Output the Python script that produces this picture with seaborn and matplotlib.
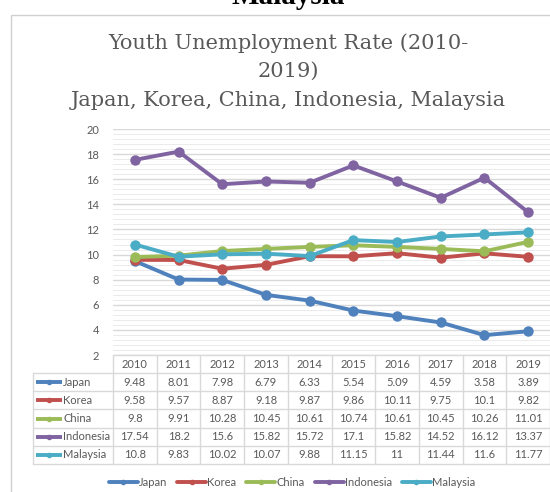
import matplotlib
matplotlib.use("Agg")
import matplotlib.pyplot as plt
from matplotlib.lines import Line2D
from matplotlib.patches import Rectangle
from matplotlib.ticker import MultipleLocator
import seaborn as sns
import pandas as pd

years = ["2010", "2011", "2012", "2013", "2014", "2015", "2016", "2017", "2018", "2019"]
countries = ["Japan", "Korea", "China", "Indonesia", "Malaysia"]
japan = [9.48, 8.01, 7.98, 6.79, 6.33, 5.54, 5.09, 4.59, 3.58, 3.89]
korea = [9.58, 9.57, 8.87, 9.18, 9.87, 9.86, 10.11, 9.75, 10.1, 9.82]
china = [9.8, 9.91, 10.28, 10.45, 10.61, 10.74, 10.61, 10.45, 10.26, 11.01]
indonesia = [17.54, 18.2, 15.6, 15.82, 15.72, 17.1, 15.82, 14.52, 16.12, 13.37]
malaysia = [10.8, 9.83, 10.02, 10.07, 9.88, 11.15, 11, 11.44, 11.6, 11.77]
colors = ["#4F81BD", "#C0504D", "#9BBB59", "#8064A2", "#4BACC6"]

series = [japan, korea, china, indonesia, malaysia]
rows = []
for c, vals in zip(countries, series):
    for i, (y, v) in enumerate(zip(years, vals)):
        rows.append({"idx": i, "year": y, "country": c, "rate": v})
df = pd.DataFrame(rows)

sns.set_theme(style="white")
plt.rcParams["font.family"] = ["Lato", "DejaVu Sans"]

W, H = 550, 492
fig = plt.figure(figsize=(W / 100, H / 100), dpi=100)


def fx(px):
    return px / W


def fy(py):
    return 1 - py / H


grey_txt = "#595959"
grid_c = "#d9d9d9"

# chart frame
fig.add_artist(Rectangle((fx(11), fy(560)), fx(600), 545 / H, transform=fig.transFigure,
                         fill=False, edgecolor="#d0d0d0", lw=1.0))
# cut-off heading above the chart
fig.text(fx(288), fy(4), "Malaysia", ha="center", va="baseline", fontsize=21,
         fontweight="bold", family=["Liberation Serif", "DejaVu Serif"], color="black")

# title
tfam = ["DejaVu Serif"]
fig.text(fx(288), fy(43), "Youth Unemployment Rate (2010-", ha="center", va="center",
         fontsize=15, family=tfam, color=grey_txt)
fig.text(fx(288), fy(71), "2019)", ha="center", va="center", fontsize=15, family=tfam, color=grey_txt)
fig.text(fx(288), fy(101), "Japan, Korea, China, Indonesia, Malaysia", ha="center", va="center",
         fontsize=15, family=tfam, color=grey_txt)

# main plot
left, right, top, bottom = 113, 550, 129, 355
ax = fig.add_axes([fx(left), fy(bottom), (right - left) / W, (bottom - top) / H])
sns.lineplot(data=df, x="idx", y="rate", hue="country", hue_order=countries,
             palette=colors, marker="o", markersize=7.5, markeredgewidth=0, linewidth=2.8,
             ax=ax, legend=False, zorder=3)
ax.set_xlim(-0.5, 9.5)
ax.set_ylim(2, 20)
ax.yaxis.set_major_locator(MultipleLocator(2))
ax.yaxis.set_minor_locator(MultipleLocator(0.4))
ax.grid(which="major", axis="y", color=grid_c, lw=1.0)
ax.grid(which="minor", axis="y", color="#ebebeb", lw=0.7)
ax.set_axisbelow(True)
for s in ax.spines.values():
    s.set_visible(False)
ax.set_xticks([])
ax.tick_params(axis="y", which="both", length=0, labelsize=8, labelcolor=grey_txt, pad=10)
ax.set_xlabel("")
ax.set_ylabel("")

# data table
tax = fig.add_axes([0, 0, 1, 1])
tax.set_xlim(0, W)
tax.set_ylim(H, 0)
tax.axis("off")
tax.patch.set_alpha(0)
colw = (right - left) / len(years)
row_top = 373
rowh = 18.2
tab_bottom = row_top + rowh * len(countries)
tab_c = "#d9d9d9"
fs = 8
tax.plot([left, right], [bottom, bottom], color=tab_c, lw=1)
for k in range(len(countries) + 1):
    yy = row_top + k * rowh
    tax.plot([33, right], [yy, yy], color=tab_c, lw=1)
for k in range(len(years) + 1):
    xx = left + k * colw
    tax.plot([xx, xx], [bottom, tab_bottom], color=tab_c, lw=1)
tax.plot([33, 33], [row_top, tab_bottom], color=tab_c, lw=1)
for i, y in enumerate(years):
    tax.text(left + (i + 0.5) * colw, (bottom + row_top) / 2, y, ha="center", va="center",
             fontsize=fs, color=grey_txt)
for r, (c, vals, col) in enumerate(zip(countries, series, colors)):
    yc = row_top + (r + 0.5) * rowh
    tax.plot([36, 62], [yc, yc], color=col, lw=2.8, solid_capstyle="butt")
    tax.plot([49], [yc], marker="o", color=col, markersize=4, markeredgewidth=0)
    tax.text(63, yc, c, ha="left", va="center", fontsize=fs, color=grey_txt)
    for i, v in enumerate(vals):
        tax.text(left + (i + 0.5) * colw, yc, f"{v:g}", ha="center", va="center",
                 fontsize=fs, color=grey_txt)

# legend
handles = [Line2D([0], [0], color=col, lw=2.8, marker="o", markersize=4, markeredgewidth=0)
           for col in colors]
fig.legend(handles, countries, loc="center", bbox_to_anchor=(fx(292), fy(482)), ncol=5,
           frameon=False, fontsize=fs, labelcolor=grey_txt, handlelength=2.6,
           handletextpad=0.1, columnspacing=0.9)

fig.savefig("out.png", dpi=100)
